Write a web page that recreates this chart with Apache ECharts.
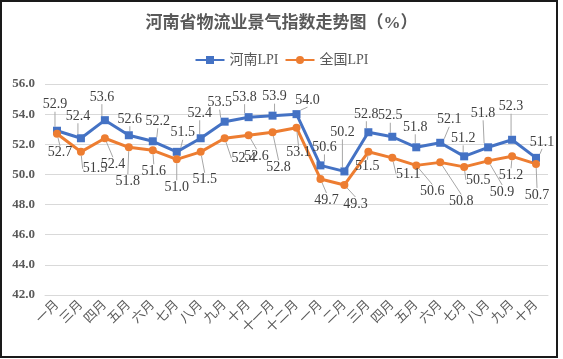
<!DOCTYPE html>
<html>
<head>
<meta charset="utf-8">
<script src="https://cdn.jsdelivr.net/npm/echarts@6/dist/echarts.min.js"></script>
<style>html,body{margin:0;padding:0;background:#fff;}#c{width:563px;height:359px;}</style>
</head>
<body>
<div id="c"></div>
<script>
const categories = ['一月','三月','四月','五月','六月','七月','八月','九月','十月','十一月','十二月','一月','二月','三月','四月','五月','六月','七月','八月','九月','十月'];
const henanLPI = [52.9,52.4,53.6,52.6,52.2,51.5,52.4,53.5,53.8,53.9,54.0,50.6,50.2,52.8,52.5,51.8,52.1,51.2,51.8,52.3,51.1];
const nationalLPI = [52.7,51.5,52.4,51.8,51.6,51.0,51.5,52.4,52.6,52.8,53.1,49.7,49.3,51.5,51.1,50.6,50.8,50.5,50.9,51.2,50.7];
const yTicks = {min: 42, max: 56, interval: 2};

// label callout offsets (style only): [dx, dy] relative to each point
const henanLabelOffsets = [[-2,-26],[-3,-22],[-3,-23],[1,-16],[5,-20],[6,-19],[-1,-25],[-5,-19],[-4,-20],[2,-19],[11,-14],[4,-18],[-2,-39],[-2,-18],[-2,-21],[-1,-20],[9,-23],[-1,-18],[-5,-34],[-1,-33],[6,-16]];
const nationalLabelOffsets = [[3,19],[14,17],[8,26],[-1,34],[1,21],[0,28],[4,28],[19,20],[8,21],[6,35],[2,25],[6,21],[11,19],[-1,15],[16,16],[16,26],[21,39],[14,13],[14,31],[-1,19],[1,31]];
const offsets = [henanLabelOffsets, nationalLabelOffsets];

const chart = echarts.init(document.getElementById('c'), null, {renderer: 'canvas'});
const serif = '"Liberation Serif", "Noto Sans CJK SC", serif';
const labelStyle = {
  show: true, position: 'inside', color: '#404040', fontSize: 14, fontFamily: serif,
  formatter: p => p.value.toFixed(1)
};
chart.setOption({
  animation: false,
  title: {
    text: '河南省物流业景气指数走势图（%）', left: 'center', top: 10,
    textStyle: {fontSize: 17, fontWeight: 'bold', color: '#595959', fontFamily: serif}
  },
  legend: {
    top: 48, left: 'center', itemWidth: 29, itemHeight: 10, itemGap: 6,
    textStyle: {fontSize: 14, color: '#595959', fontFamily: serif}
  },
  grid: {left: 45, right: 15, top: 84, bottom: 64, containLabel: false},
  xAxis: {
    type: 'category', data: categories, boundaryGap: true,
    axisLine: {show: true, lineStyle: {color: '#d9d9d9'}}, axisTick: {show: false},
    axisLabel: {interval: 0, rotate: 45, margin: 8, fontSize: 13, color: '#595959', fontFamily: serif}
  },
  yAxis: {
    type: 'value', min: yTicks.min, max: yTicks.max, interval: yTicks.interval,
    axisLine: {show: false}, axisTick: {show: false},
    splitLine: {lineStyle: {color: '#d9d9d9'}},
    axisLabel: {fontSize: 13, fontWeight: 'bold', color: '#595959', fontFamily: serif, margin: 10,
      formatter: v => v.toFixed(1)}
  },
  series: [
    {name: '河南LPI', type: 'line', data: henanLPI, symbol: 'rect', symbolSize: 8,
      lineStyle: {width: 3, color: '#4472C4'}, itemStyle: {color: '#4472C4'},
      label: labelStyle, labelLine: {show: true, lineStyle: {color: '#a6a6a6', width: 1}}},
    {name: '全国LPI', type: 'line', data: nationalLPI, symbol: 'circle', symbolSize: 8,
      lineStyle: {width: 3, color: '#ED7D31'}, itemStyle: {color: '#ED7D31'},
      label: labelStyle, labelLine: {show: true, lineStyle: {color: '#a6a6a6', width: 1}}}
  ],
  labelLayout: function (p) {
    const o = offsets[p.seriesIndex][p.dataIndex];
    return {dx: o[0], dy: o[1]};
  },
  graphic: [{type: 'rect', shape: {x: 1, y: 1, width: 556, height: 356},
    style: {fill: 'none', stroke: '#1a1a1a', lineWidth: 2}, silent: true, z: 100}]
});
</script>
</body>
</html>
